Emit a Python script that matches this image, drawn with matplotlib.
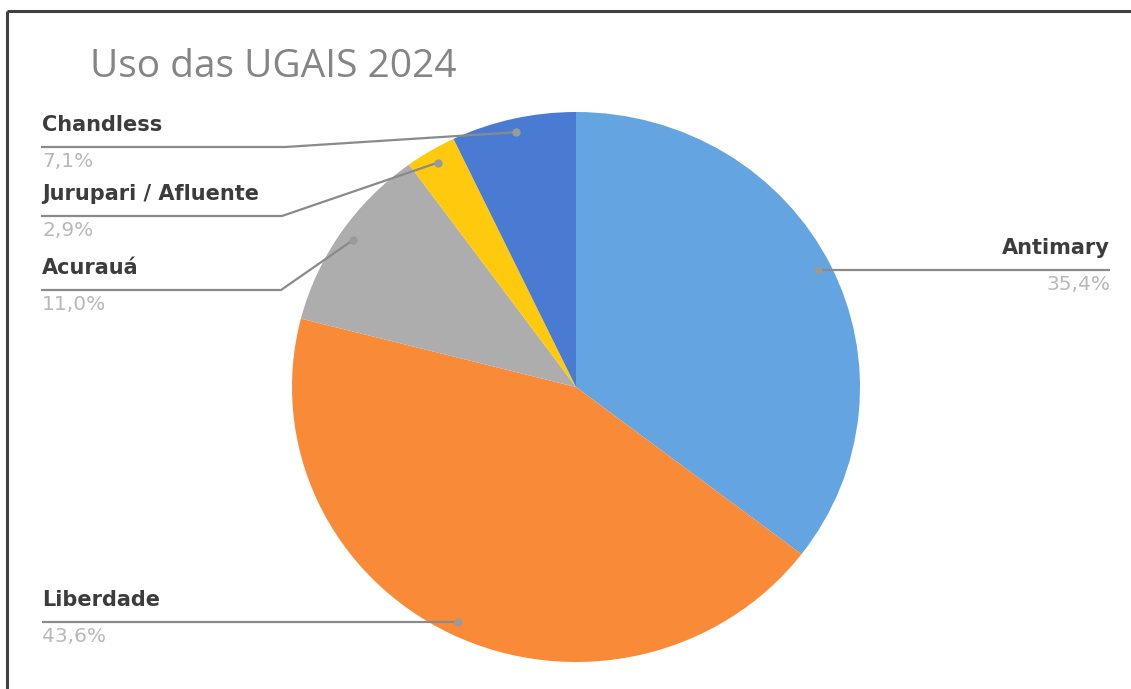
import matplotlib.pyplot as plt
import numpy as np

# data
labels = ['Antimary', 'Liberdade', 'Acurauá', 'Jurupari / Afluente', 'Chandless']
values = [35.4, 43.6, 11.0, 2.9, 7.1]
colors = ['#63a4e1', '#f98a38', '#adadad', '#ffc90d', '#4a7bd3']
title = 'Uso das UGAIS 2024'

W, H = 1131, 689
fig = plt.figure(figsize=(W / 100, H / 100), dpi=100)

# pie axes (slightly squashed like the original)
cx, cy, rx, ry = 576, 387, 284, 275
pax = fig.add_axes([(cx - rx) / W, (H - cy - ry) / H, 2 * rx / W, 2 * ry / H])
wedges, _ = pax.pie(values, colors=colors, startangle=90, counterclock=False,
                    radius=1, wedgeprops=dict(linewidth=0))
pax.set_aspect('auto')
pax.set_xlim(-1, 1)
pax.set_ylim(-1, 1)
pax.axis('off')

# overlay in pixel coords (y down) for labels / leader lines / frame
ov = fig.add_axes([0, 0, 1, 1])
ov.set_xlim(0, W)
ov.set_ylim(H, 0)
ov.axis('off')
ov.patch.set_alpha(0)

def anchor(w):
    mid = np.deg2rad((w.theta1 + w.theta2) / 2)
    px = pax.transData.transform((0.95 * np.cos(mid), 0.95 * np.sin(mid)))
    return ov.transData.inverted().transform(px)

# label layout: (x of text, y of underline, bend x, align)
layout = {
    'Antimary': (1110, 270, None, 'right'),
    'Liberdade': (42, 622, None, 'left'),
    'Acurauá': (42, 290, 281, 'left'),
    'Jurupari / Afluente': (42, 216, 282, 'left'),
    'Chandless': (42, 147, 285, 'left'),
}

line_c = '#8a8a8a'
for w, lab, v in zip(wedges, labels, values):
    ax_, ay_ = anchor(w)
    tx, ly, bend, ha = layout[lab]
    if bend is None:
        ov.plot([tx, ax_], [ly, ly], color=line_c, lw=1.6, solid_capstyle='butt')
        ay_ = ly
    else:
        ov.plot([tx, bend, ax_], [ly, ly, ay_], color=line_c, lw=1.6)
    ov.plot(ax_, ay_, 'o', ms=6, color='#9a9a9a', mec='none')
    ov.text(tx, ly - 16, lab, ha=ha, va='baseline', fontsize=15, fontweight='bold',
            color='#3c3c3c', family='DejaVu Sans')
    ov.text(tx, ly + 5, f'{v:.1f}%'.replace('.', ','), ha=ha, va='top', fontsize=14.5,
            color='#b8b8b8', family='DejaVu Sans')

ov.text(90, 67, title, ha='left', va='center', fontsize=28, color='#858585', family='Open Sans')

# screenshot frame
ov.plot([7, W], [11, 11], color='#404040', lw=2.2, solid_capstyle='butt')
ov.plot([7, 7], [11, H], color='#404040', lw=2.2, solid_capstyle='butt')

fig.savefig('out.png', dpi=100)
